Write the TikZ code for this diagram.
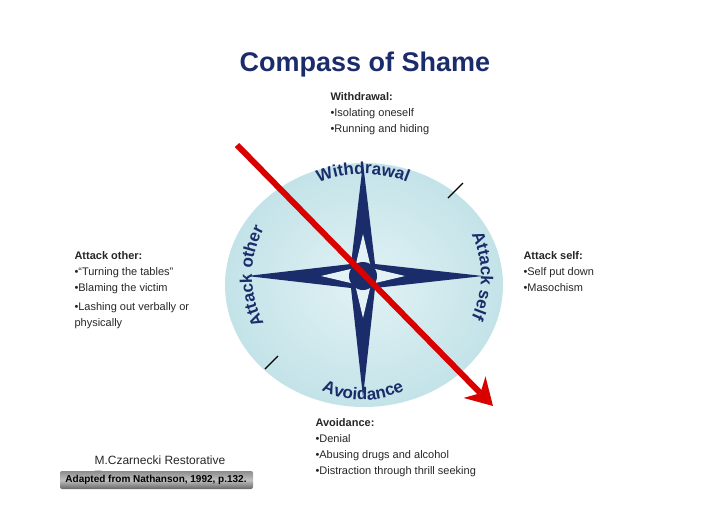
\documentclass[tikz,border=0pt]{standalone}
\usepackage{fontspec}
\setmainfont{Liberation Sans}
\usetikzlibrary{arrows.meta,decorations.text}
\definecolor{navy}{HTML}{1B2C6B}
\definecolor{dial}{HTML}{C3E3E8}
\definecolor{pale}{HTML}{E2F2F5}
\tikzset{
  txt/.style={anchor=north west,align=left,font=\fontsize{11}{16}\selectfont,text=black!85},
  dtext/.style={decoration={text along path,text align=center,text={|\fontsize{17}{17}\selectfont\bfseries\color{navy}|#1}},decorate},
}
\begin{document}
\begin{tikzpicture}[x=1pt,y=-1pt]
\useasboundingbox (0,0) rectangle (728,515);
\node[font=\fontsize{27}{27}\selectfont\bfseries,text=navy] (title) at (365,65) {Compass of Shame};
% dial
\shade[inner color=pale,outer color=dial] (364,285) ellipse[x radius=139,y radius=122];
\coordinate (c) at (363,276);
\fill[navy] (363,163) -- (375,264) -- (483,276) -- (375,288) -- (363,397) -- (351,288) -- (247,276) -- (351,264) -- cycle;
\fill[pale] (363,234) -- (371,268) -- (405,276) -- (371,284) -- (363,318) -- (355,284) -- (321,276) -- (355,268) -- cycle;
\fill[navy] (c) circle[radius=14];
\draw[line width=1.2pt] (448,198) -- (463,183);
\draw[line width=1.2pt] (265,369) -- (278,356);
% dial words
\path[dtext=Withdrawal] (c) ++(-122:110 and 102) arc[start angle=-122,end angle=-58,x radius=110,y radius=102];
\path[dtext=Avoidance] (c) ++(150:106 and 124) arc[start angle=150,end angle=30,x radius=106,y radius=124];
\path[dtext={Attack self}] (c) ++(-34:118 and 105) arc[start angle=-34,end angle=34,x radius=118,y radius=105];
\path[dtext={Attack other}] (c) ++(146:111 and 105) arc[start angle=146,end angle=214,x radius=111,y radius=105];
% arrow
\coordinate (a1) at (237,145);
\coordinate (a2) at (493,406);
\draw[line width=6pt,red!85!black,-{Stealth[length=26pt,width=30pt,inset=8pt]}] (a1) -- (a2);
% texts
\node[txt] (w) at (327,89) {\textbf{Withdrawal:}\\•Isolating oneself\\•Running and hiding};
\node[txt] (ao) at (71,248) {\textbf{Attack other:}\\•“Turning the tables”\\•Blaming the victim\\[3pt]•Lashing out verbally or\\physically};
\node[txt] (as) at (520,248) {\textbf{Attack self:}\\•Self put down\\•Masochism};
\node[txt] (av) at (312,415) {\textbf{Avoidance:}\\•Denial\\•Abusing drugs and alcohol\\•Distraction through thrill seeking};
\node[anchor=west,font=\fontsize{12}{14}\selectfont,text=black!85] (mc) at (91,460) {M.Czarnecki Restorative};
\node[anchor=west,font=\fontsize{12}{14}\selectfont,text=black!85] at (91,475) {Text};
\shade[top color=black!45,bottom color=black!60,middle color=black!25,rounded corners=2pt] (60,471) rectangle (253,489);
\node[font=\fontsize{10}{12}\selectfont\bfseries] (src) at (156,480) {Adapted from Nathanson, 1992, p.132.};
\end{tikzpicture}
\end{document}
